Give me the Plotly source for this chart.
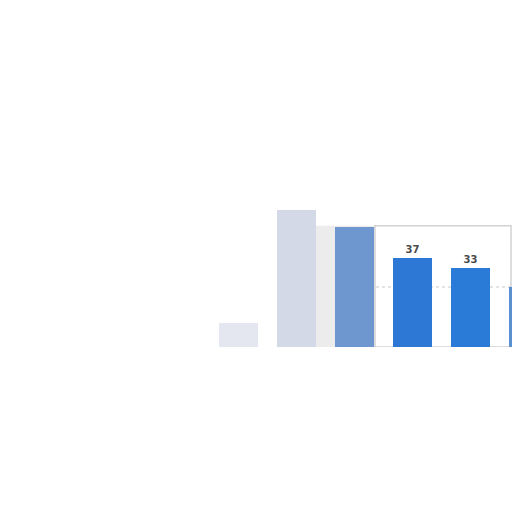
import plotly.graph_objects as go

positions = [0, 1, 2, 3, 4, 5]
values = [10, 57, 50, 37, 33, 25]
labels = ["", "", "", "<b>37</b>", "<b>33</b>", ""]
bar_colors = ["rgba(205,212,225,0.55)", "rgba(200,208,224,0.8)", "#6f97cf",
              "#2c78d4", "#2a7ad8", "#5a8fd2"]

W = 512.0


def px(X):
    return X / W


fig = go.Figure()
fig.add_trace(go.Bar(
    x=positions, y=values, width=0.67,
    marker=dict(color=bar_colors, line=dict(width=0)),
    text=labels, textposition="outside", cliponaxis=False,
    textfont=dict(family="DejaVu Sans", size=10, color="#4a4a4a"),
    hoverinfo="skip",
))

a = 3 - 412.5 / 58.0
b = a + W / 58.0
base = W - 347

fig.update_layout(
    width=512, height=512,
    margin=dict(l=0, r=0, t=0, b=0),
    paper_bgcolor="white", plot_bgcolor="rgba(0,0,0,0)",
    showlegend=False,
    xaxis=dict(range=[a, b], domain=[0, 1], visible=False, fixedrange=True),
    yaxis=dict(range=[0, 70], domain=[base / W, (base + 70 * 2.4) / W],
               visible=False, fixedrange=True),
    bargap=0,
    shapes=[
        dict(type="rect", xref="paper", yref="y", x0=px(316), x1=px(378), y0=0, y1=50.5,
             fillcolor="#ececec", line=dict(width=0), layer="below"),
        dict(type="rect", xref="paper", yref="y", x0=px(375), x1=px(511), y0=0, y1=50.5,
             fillcolor="white", line=dict(color="#d2d2d2", width=1.5), layer="below"),
        dict(type="line", xref="paper", yref="y", x0=px(376), x1=px(511), y0=25, y1=25,
             line=dict(color="#c8c8c8", width=1, dash="dot"), layer="below"),
    ],
)

fig.write_html(
    "out.html",
    config={"displayModeBar": False, "staticPlot": True},
    post_script="document.body.style.margin='0';document.body.style.overflow='hidden';",
)
